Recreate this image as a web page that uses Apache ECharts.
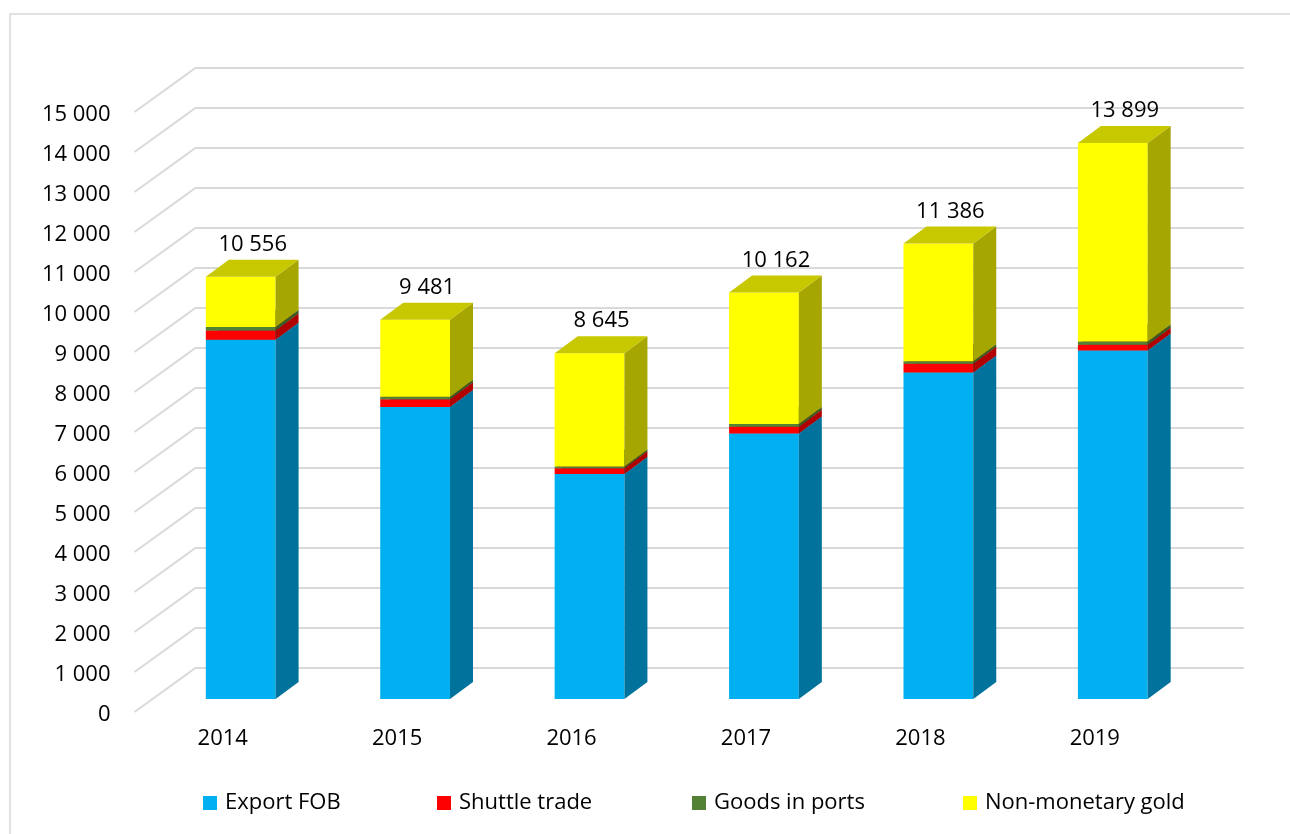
<!DOCTYPE html>
<html>
<head>
<meta charset="utf-8">
<title>Export structure 2014-2019</title>
<script src="https://cdn.jsdelivr.net/npm/echarts@6/dist/echarts.min.js"></script>
<style>
  html, body { margin: 0; padding: 0; background: #fff; }
  #main { width: 1290px; height: 834px; }
</style>
</head>
<body>
<div id="main"></div>
<script>
// data
const years = ['2014', '2015', '2016', '2017', '2018', '2019'];
const exportFob = [8980, 7300, 5625, 6640, 8160, 8710];
const shuttleTrade = [230, 195, 145, 165, 220, 145];
const goodsInPorts = [90, 60, 45, 70, 65, 85];
const gold = [1256, 1926, 2830, 3287, 2941, 4959];
const totals = [10556, 9481, 8645, 10162, 11386, 13899];
const yTicks = [0, 1000, 2000, 3000, 4000, 5000, 6000, 7000, 8000, 9000, 10000, 11000, 12000, 13000, 14000, 15000];

const seriesNames = ['Export FOB', 'Shuttle trade', 'Goods in ports', 'Non-monetary gold'];
const seriesValues = [exportFob, shuttleTrade, goodsInPorts, gold];
// front / side / top colours
const seriesColors = [
    ['#00B0F0', '#00729C', '#0089BB'],
    ['#FF0000', '#B00000', '#C80000'],
    ['#548235', '#3A5B25', '#45692B'],
    ['#FFFF00', '#A6A600', '#C8C800']
];

const DX = 23, DY = 17;          // depth of the boxes
const FONT = 'Open Sans';

const fmt = (v) => String(v).replace(/\B(?=(\d{3})+(?!\d))/g, ' ');

const makeBox = (cols) => (params, api) => {
    const i = api.value(0);
    const p0 = api.coord([i, api.value(1)]);
    const p1 = api.coord([i, api.value(2)]);
    const w = api.size([1, 0])[0] * 0.4;
    const x0 = p0[0] - w / 2, x1 = p0[0] + w / 2, yb = p0[1], yt = p1[1];
    return {
        type: 'group',
        children: [
            { type: 'rect', shape: { x: x0, y: yt, width: w, height: yb - yt }, style: { fill: cols[0] } },
            { type: 'polygon', shape: { points: [[x1, yb], [x1 + DX, yb - DY], [x1 + DX, yt - DY], [x1, yt]] }, style: { fill: cols[1] } },
            { type: 'polygon', shape: { points: [[x0, yt], [x0 + DX, yt - DY], [x1 + DX, yt - DY], [x1, yt]] }, style: { fill: cols[2] } }
        ]
    };
};

// stacked boxes
const stackSeries = [];
const base = years.map(() => 0);
seriesValues.forEach((vals, k) => {
    const data = vals.map((v, i) => {
        const row = [i, base[i], base[i] + v];
        base[i] += v;
        return row;
    });
    stackSeries.push({
        name: seriesNames[k],
        type: 'custom',
        xAxisIndex: 0,
        yAxisIndex: 0,
        itemStyle: { color: seriesColors[k][0] },
        renderItem: makeBox(seriesColors[k]),
        encode: { x: 0, y: [1, 2] },
        data: data,
        z: 3
    });
});

const chart = echarts.init(document.getElementById('main'));

chart.setOption({
    backgroundColor: '#fff',
    animation: false,
    textStyle: { fontFamily: FONT },
    graphic: [{
        type: 'rect',
        shape: { x: 10, y: 14, width: 1300, height: 840 },
        style: { fill: 'none', stroke: '#d9d9d9', lineWidth: 1.5 },
        silent: true
    }],
    grid: [
        // plane of the bar fronts
        { left: 153.5, right: 90, top: 99, bottom: 135 },
        // front plane, carries the axis labels
        { left: 135.5, right: 108, top: 115, bottom: 119 }
    ],
    xAxis: [
        { type: 'category', gridIndex: 0, data: years, show: false },
        {
            type: 'category', gridIndex: 1, data: years,
            axisLine: { show: false }, axisTick: { show: false },
            axisLabel: { fontSize: 22, color: '#000', margin: 13, fontFamily: FONT }
        }
    ],
    yAxis: [
        { type: 'value', gridIndex: 0, min: 0, max: 15000, interval: 1000, show: false },
        {
            type: 'value', gridIndex: 1, min: 0, max: 15000, interval: 1000,
            axisLine: { show: false }, axisTick: { show: false }, splitLine: { show: false },
            axisLabel: { fontSize: 22, color: '#000', margin: 25, fontFamily: FONT, formatter: fmt }
        }
    ],
    legend: seriesNames.map((n, k) => ({
        data: [n],
        left: [203, 437, 692, 963][k],
        top: 792,
        padding: 0,
        icon: 'rect',
        itemWidth: 14,
        itemHeight: 14,
        selectedMode: false,
        textStyle: { fontSize: 22, color: '#000', fontFamily: FONT, padding: [0, 0, 0, 3] }
    })),
    series: [
        {
            // floor diagonals + back wall gridlines
            type: 'custom',
            name: 'grid',
            xAxisIndex: 0,
            yAxisIndex: 0,
            silent: true,
            z: 1,
            renderItem: (params, api) => {
                const cs = params.coordSys;
                const y = api.coord([0, api.value(0)])[1];
                return {
                    type: 'polyline',
                    shape: { points: [[cs.x - 19, y + 13], [cs.x + 42, y - 31], [cs.x + cs.width + 44, y - 31]] },
                    style: { stroke: '#d9d9d9', lineWidth: 2, fill: 'none' }
                };
            },
            encode: { y: 0 },
            data: yTicks.map(v => [v])
        },
        ...stackSeries,
        {
            type: 'custom',
            name: 'totals',
            xAxisIndex: 0,
            yAxisIndex: 0,
            z: 4,
            renderItem: (params, api) => {
                const p = api.coord([api.value(0), api.value(1)]);
                return {
                    type: 'text',
                    x: p[0] + 12,
                    y: p[1] - 32,
                    style: {
                        text: fmt(api.value(1)),
                        align: 'center',
                        verticalAlign: 'middle',
                        fontSize: 22,
                        fontFamily: FONT,
                        fill: '#000'
                    }
                };
            },
            encode: { x: 0, y: 1 },
            data: totals.map((t, i) => [i, t])
        }
    ]
});
</script>
</body>
</html>
